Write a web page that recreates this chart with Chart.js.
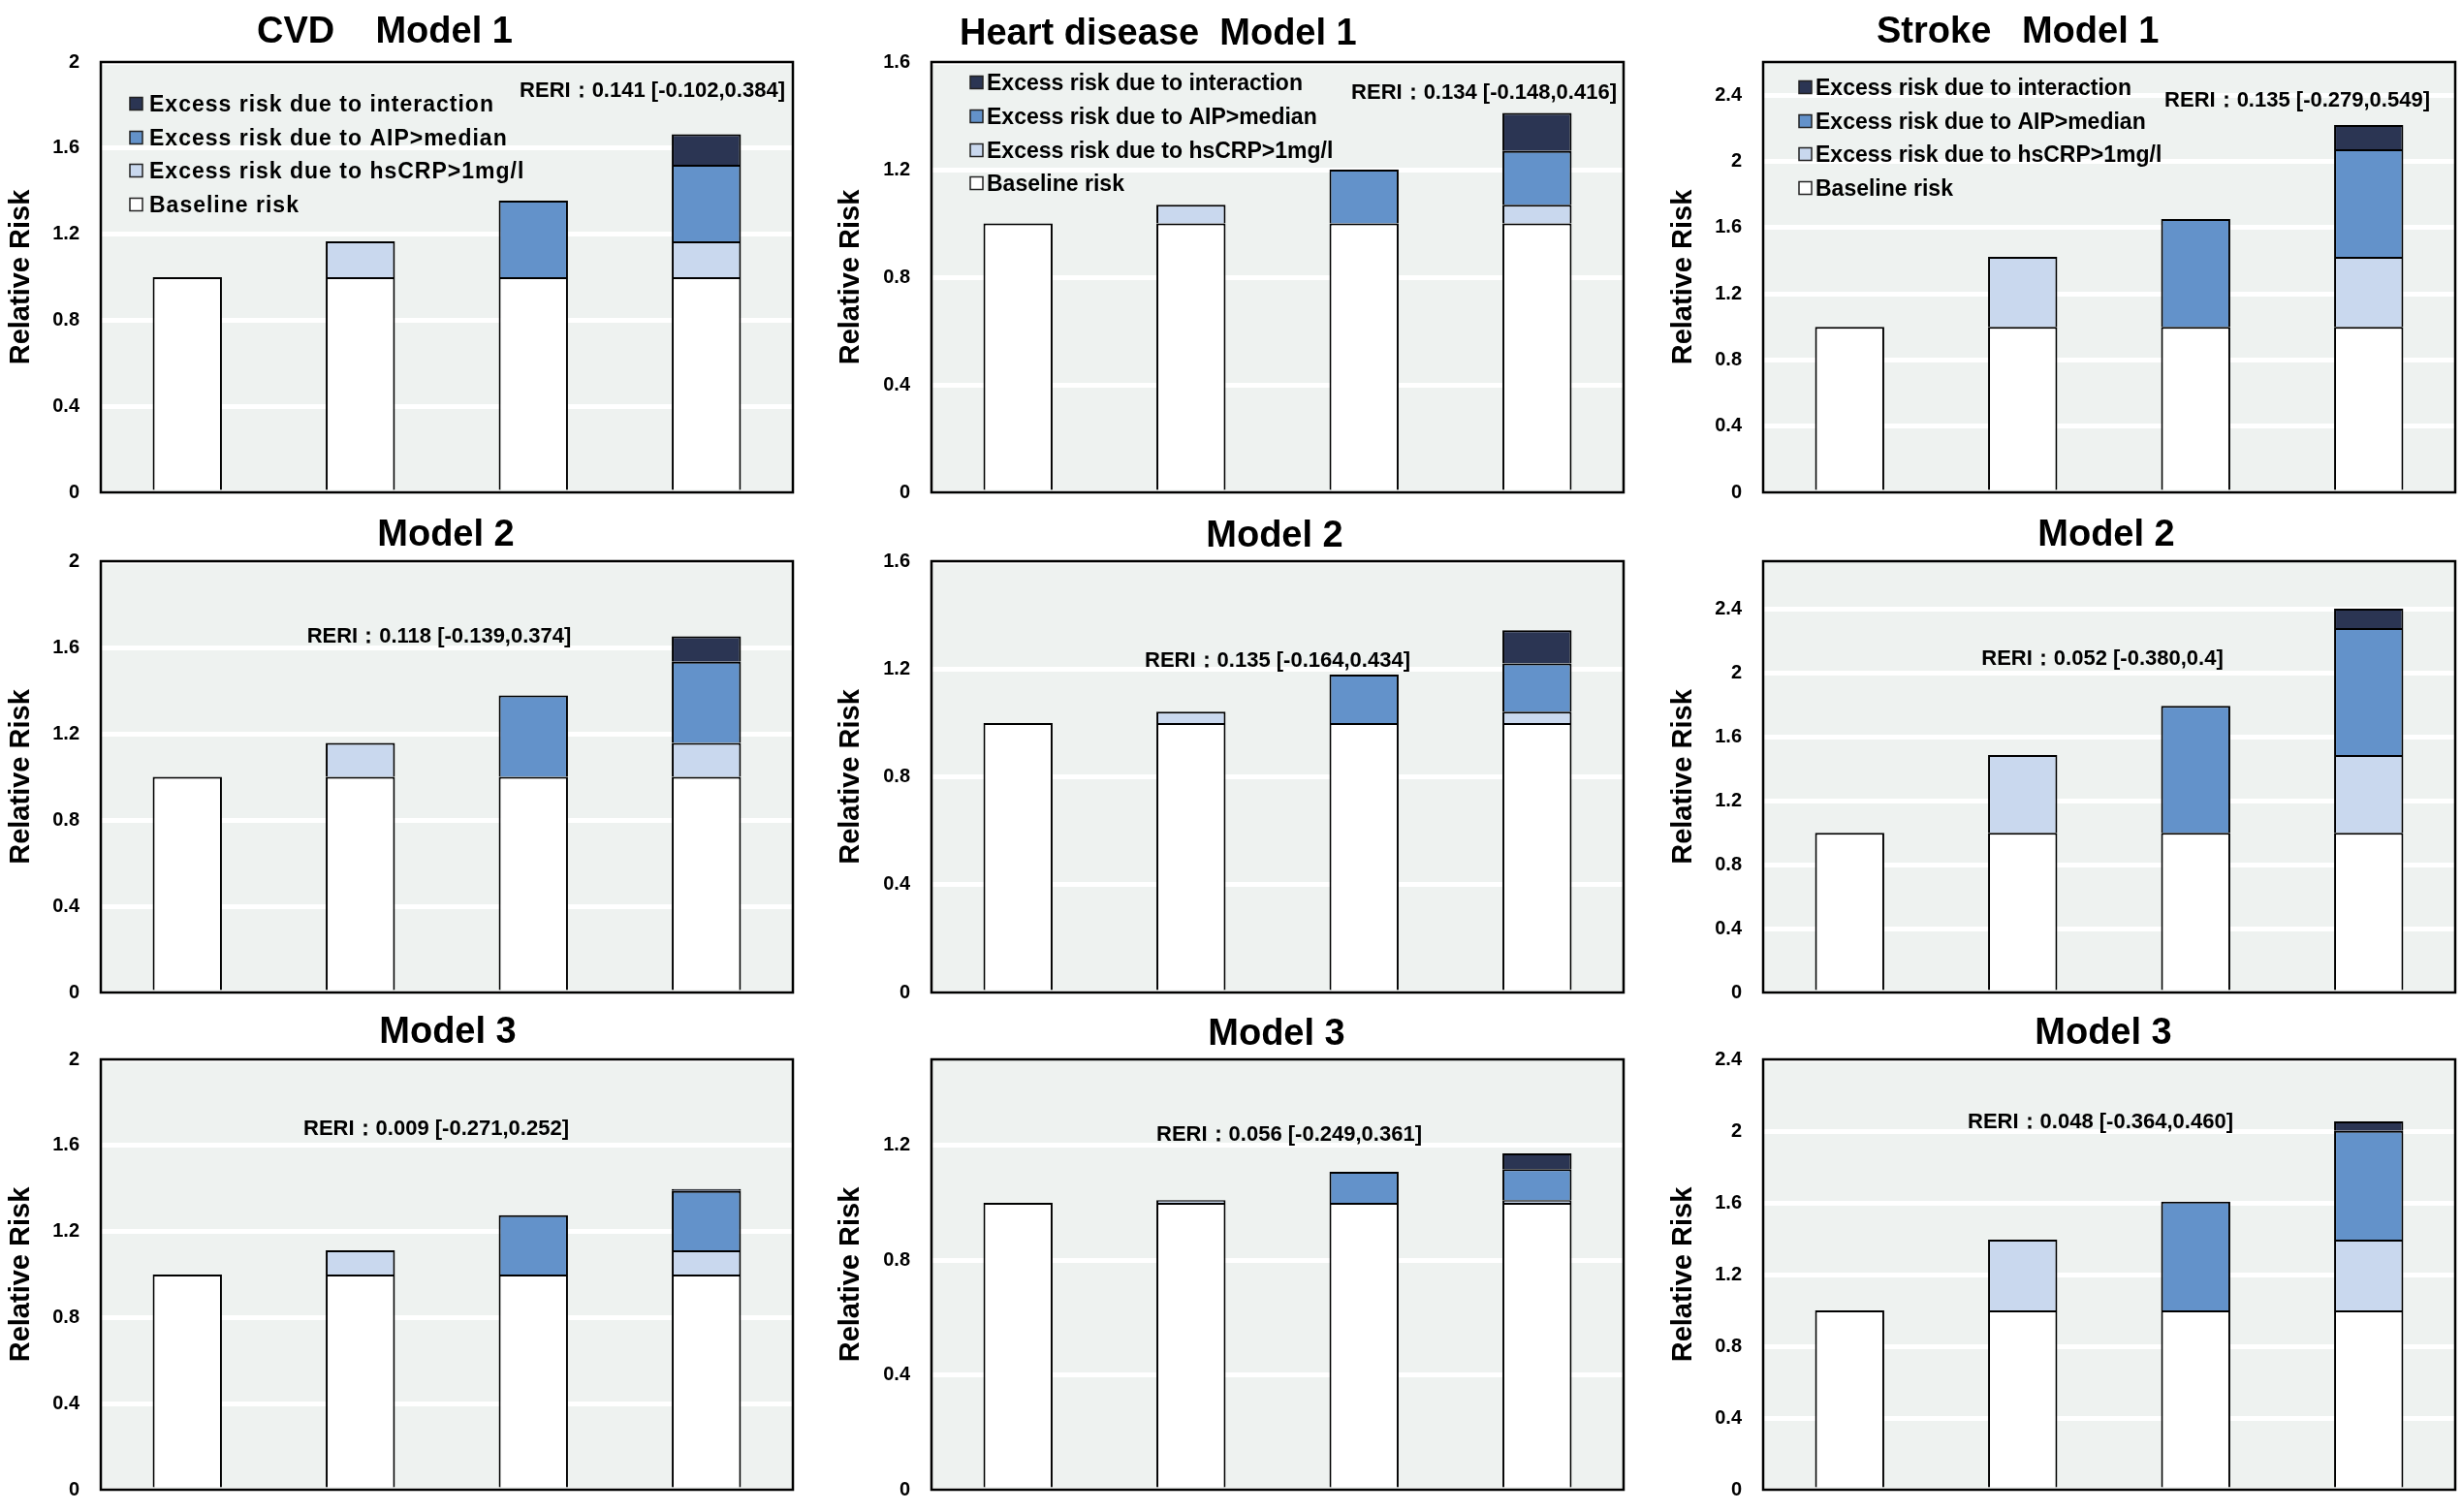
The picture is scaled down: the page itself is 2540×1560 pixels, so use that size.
<!DOCTYPE html>
<html>
<head>
<meta charset="utf-8">
<script src="https://cdn.jsdelivr.net/npm/chart.js@4.4.0/dist/chart.umd.min.js"></script>
<style>
  html, body { margin: 0; padding: 0; background: #fff; }
  body { width: 2540px; height: 1560px; position: relative; overflow: hidden; }
  canvas.panel { position: absolute; }
</style>
</head>
<body>
<script>
// ---- data ----
const categories = ["Reference", "hsCRP>1mg/l", "AIP>median", "hsCRP>1mg/l & AIP>median"];
const seriesLabels = [
  "Baseline risk",
  "Excess risk due to hsCRP>1mg/l",
  "Excess risk due to AIP>median",
  "Excess risk due to interaction",
];
const seriesColors = ["#FFFFFF", "#C9D8EE", "#6392CA", "#2B3553"];

// panels, row by row: CVD / Heart disease / Stroke  x  Model 1..3
const panelTitles = [
  "CVD    Model 1", "Heart disease  Model 1", "Stroke   Model 1",
  "Model 2", "Model 2", "Model 2",
  "Model 3", "Model 3", "Model 3",
];
const reriLabels = [
  "RERI：0.141 [-0.102,0.384]", "RERI：0.134 [-0.148,0.416]", "RERI：0.135 [-0.279,0.549]",
  "RERI：0.118 [-0.139,0.374]", "RERI：0.135 [-0.164,0.434]", "RERI：0.052 [-0.380,0.4]",
  "RERI：0.009 [-0.271,0.252]", "RERI：0.056 [-0.249,0.361]", "RERI：0.048 [-0.364,0.460]",
];
const yMax = [2, 1.6, 2.6, 2, 1.6, 2.7, 2, 1.5, 2.4];
const tickLabels = ["0", "0.4", "0.8", "1.2", "1.6", "2", "2.4"];

const baselineRisk = [1, 1, 1, 1];
const hsCRPRisk = [
  [null, 0.167, null, 0.167],
  [null, 0.069, null, 0.069],
  [null, 0.423, null, 0.423],
  [null, 0.157, null, 0.157],
  [null, 0.042, null, 0.042],
  [null, 0.487, null, 0.487],
  [null, 0.113, null, 0.113],
  [null, 0.009, null, 0.009],
  [null, 0.394, null, 0.394],
];
const aipRisk = [
  [null, null, 0.356, 0.356],
  [null, null, 0.2, 0.2],
  [null, null, 0.652, 0.65],
  [null, null, 0.377, 0.377],
  [null, null, 0.179, 0.179],
  [null, null, 0.795, 0.795],
  [null, null, 0.276, 0.276],
  [null, null, 0.108, 0.108],
  [null, null, 0.607, 0.607],
];
const interactionRisk = [
  [null, null, null, 0.141],
  [null, null, null, 0.142],
  [null, null, null, 0.147],
  [null, null, null, 0.118],
  [null, null, null, 0.123],
  [null, null, null, 0.12],
  [null, null, null, 0.009],
  [null, null, null, 0.055],
  [null, null, null, 0.053],
];

// ---- layout (page pixels) ----
const FONT = "'Liberation Sans', Arial, Helvetica, sans-serif";
const plotBg = "#EEF2F0";
const canvasW = 840, canvasH = 560;
const colLeft = [0, 850, 1700];
const rowTop = [0, 515, 1030];
const plotLeft = [104, 961, 1819];
const plotRight = [818, 1675, 2533];
const plotTop = [64, 579, 1093];
const plotBottom = [508, 1024, 1537];
const yTitleX = [22, 878, 1737];

const titlePos = [
  [265, 44, "left"], [990, 46, "left"], [1936, 44, "left"],
  [460, 563, "center"], [1315, 564, "center"], [2173, 563, "center"],
  [462, 1076, "center"], [1317, 1078, "center"], [2170, 1077, "center"],
];
const reriPos = [
  [810, 100, "right"], [1668, 102, "right"], [2507, 110, "right"],
  [453, 663, "center"], [1318, 688, "center"], [2169, 686, "center"],
  [450, 1171, "center"], [1330, 1177, "center"], [2167, 1164, "center"],
];
const legendPos = [
  { boxX: 134, textX: 154, rows: [107, 142, 176, 211], spacing: "1px" },
  { boxX: 1001, textX: 1018, rows: [85, 120, 155, 189], spacing: "0px" },
  { boxX: 1856, textX: 1873, rows: [90, 125, 159, 194], spacing: "0px" },
];

const panelDecor = {
  id: "panelDecor",
  beforeDraw(chart, args, opts) {
    const { ctx, chartArea: a } = chart;
    ctx.save();
    ctx.fillStyle = plotBg;
    ctx.fillRect(a.left, a.top, a.right - a.left, a.bottom - a.top);
    ctx.restore();
  },
  afterDatasetsDraw(chart, args, opts) {
    const { ctx, chartArea: a } = chart;
    const ox = opts.ox, oy = opts.oy;
    ctx.save();
    ctx.strokeStyle = "#000";
    ctx.lineWidth = 2.5;
    ctx.strokeRect(a.left, a.top, a.right - a.left, a.bottom - a.top);

    ctx.fillStyle = "#000";
    ctx.textBaseline = "alphabetic";
    ctx.font = "bold 38px " + FONT;
    ctx.textAlign = opts.title[2];
    ctx.fillText(opts.titleText, opts.title[0] - ox, opts.title[1] - oy);

    ctx.font = "bold 22px " + FONT;
    ctx.textAlign = opts.reri[2];
    ctx.fillText(opts.reriText, opts.reri[0] - ox, opts.reri[1] - oy);

    if (opts.legend) {
      const lg = opts.legend;
      const ds = chart.data.datasets.slice().reverse();
      ctx.font = "bold 23px " + FONT;
      ctx.textAlign = "left";
      ctx.letterSpacing = lg.spacing;
      ds.forEach((d, i) => {
        const cy = lg.rows[i] - oy;
        const bx = lg.boxX - ox;
        ctx.fillStyle = d.backgroundColor;
        ctx.fillRect(bx, cy - 6.5, 13, 13);
        ctx.strokeStyle = "#222";
        ctx.lineWidth = 1.5;
        ctx.strokeRect(bx, cy - 6.5, 13, 13);
        ctx.fillStyle = "#000";
        ctx.fillText(d.label, lg.textX - ox, cy + 8.2);
      });
    }
    ctx.restore();
  },
};

Chart.defaults.font.family = FONT;
Chart.defaults.color = "#000";

for (let p = 0; p < 9; p++) {
  const row = Math.floor(p / 3), col = p % 3;
  const ox = colLeft[col], oy = rowTop[row];

  const canvas = document.createElement("canvas");
  canvas.className = "panel";
  canvas.width = canvasW;
  canvas.height = canvasH;
  canvas.style.left = ox + "px";
  canvas.style.top = oy + "px";
  canvas.style.width = canvasW + "px";
  canvas.style.height = canvasH + "px";
  document.body.appendChild(canvas);

  const seriesData = [baselineRisk, hsCRPRisk[p], aipRisk[p], interactionRisk[p]];
  const axisW = plotLeft[col] - ox;

  new Chart(canvas.getContext("2d"), {
    type: "bar",
    data: {
      labels: categories,
      datasets: seriesData.map((vals, i) => ({
        label: seriesLabels[i],
        data: vals,
        backgroundColor: seriesColors[i],
        borderColor: "#000",
        borderWidth: { top: 2, bottom: 0, left: 2, right: 2 },
        borderSkipped: false,
        barPercentage: 0.4,
        categoryPercentage: 1.0,
      })),
    },
    options: {
      responsive: false,
      animation: false,
      devicePixelRatio: 1,
      layout: {
        padding: {
          left: 0,
          right: ox + canvasW - plotRight[col],
          top: plotTop[row] - oy,
          bottom: oy + canvasH - plotBottom[row],
        },
      },
      scales: {
        x: { stacked: true, display: false },
        y: {
          stacked: true,
          min: 0,
          max: yMax[p],
          border: { display: false },
          grid: { color: "#FFFFFF", lineWidth: 5, drawTicks: false },
          ticks: {
            stepSize: 0.4,
            includeBounds: false,
            padding: 22,
            font: { size: 20, weight: "bold" },
            color: "#000",
            callback: (v, i) => tickLabels[i],
          },
          title: {
            display: true,
            text: "Relative Risk",
            font: { size: 29, weight: "bold" },
            color: "#000",
            padding: { top: yTitleX[col] - ox - 17.4, bottom: 0 },
          },
          afterFit: (scale) => { scale.width = axisW; },
        },
      },
      plugins: {
        legend: { display: false },
        tooltip: { enabled: false },
        panelDecor: {
          ox: ox,
          oy: oy,
          titleText: panelTitles[p],
          title: titlePos[p],
          reriText: reriLabels[p],
          reri: reriPos[p],
          legend: row === 0 ? legendPos[col] : null,
        },
      },
    },
    plugins: [panelDecor],
  });
}
</script>
</body>
</html>
